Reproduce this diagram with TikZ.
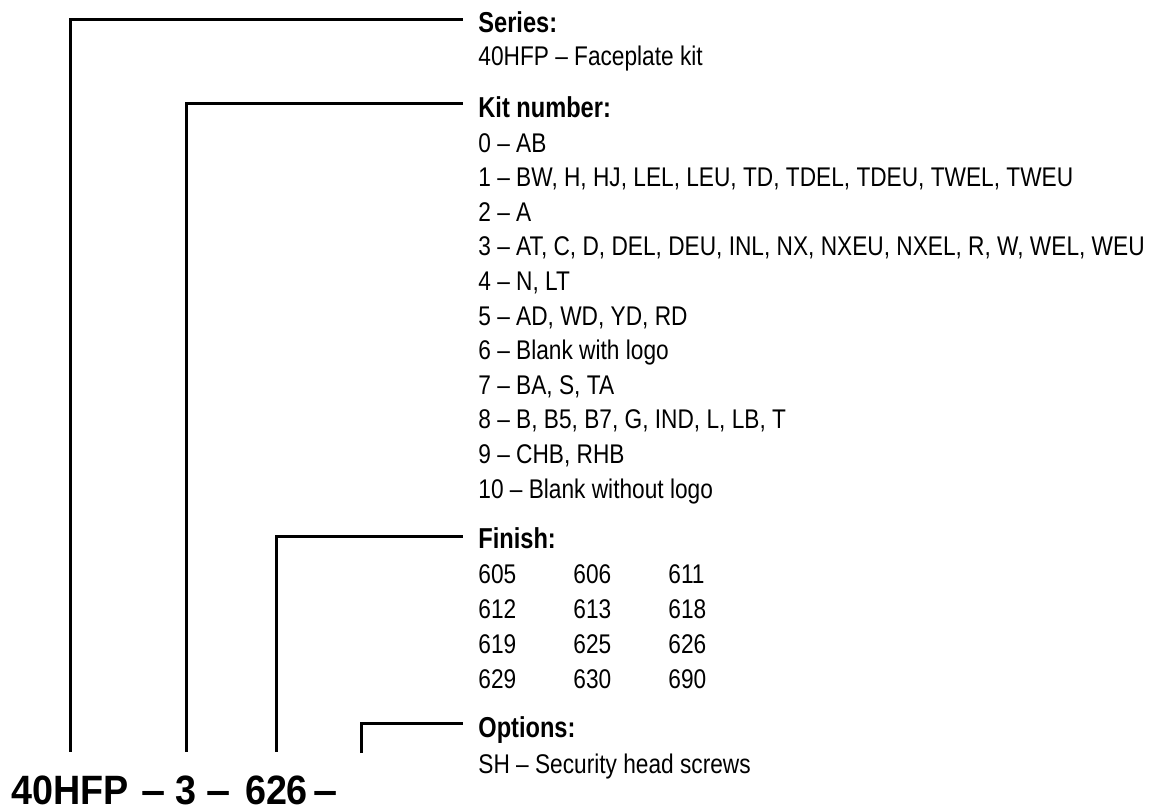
\documentclass[tikz,border=0pt]{standalone}
\usepackage{graphicx}
\usepackage{fontspec}
\setmainfont[FakeStretch=0.84]{Liberation Sans}
\newfontfamily\headfont[FakeStretch=0.82]{Liberation Sans}
\newfontfamily\codefont[FakeStretch=0.92]{Liberation Sans}
\usetikzlibrary{positioning}

\newcommand{\codedash}{\scalebox{1.15}[1]{–}}

\tikzset{
  entry/.style={anchor=base west, inner sep=0pt, font=\fontsize{13.5}{15}\selectfont},
  heading/.style={anchor=base west, inner sep=0pt, font=\headfont\bfseries\fontsize{14.4}{16}\selectfont},
  codepart/.style={anchor=base, inner sep=0pt, text height=14.5pt, text depth=0pt, font=\codefont\bfseries\fontsize{20.5}{22}\selectfont},
  leader/.style={line width=1.5pt},
}

\begin{document}
\begin{tikzpicture}[x=0.5pt,y=-0.5pt]
  \useasboundingbox (0,0) rectangle (1151,810);

  % ordering code
  \node[codepart] (pser) at (70,804) {40HFP};
  \node[codepart] (d1) at (153.5,804) {\codedash};
  \node[codepart] (pkit) at (186,804) {3};
  \node[codepart] (d2) at (218.5,804) {\codedash};
  \node[codepart] (pfin) at (276.5,804) {626};
  \node[codepart] (d3) at (326,804) {\codedash};
  \coordinate (popt) at (361,753);

  % series
  \node[heading] (hser) at (478,32) {Series:};
  \node[entry] (ser) at (478,65) {40HFP – Faceplate kit};

  % kit number
  \node[heading] (hkit) at (478,117) {Kit number:};
  \foreach \k/\txt in {0/{AB}, 1/{BW, H, HJ, LEL, LEU, TD, TDEL, TDEU, TWEL, TWEU}, 2/{A},
      3/{AT, C, D, DEL, DEU, INL, NX, NXEU, NXEL, R, W, WEL, WEU}, 4/{N, LT},
      5/{AD, WD, YD, RD}, 6/{Blank with logo}, 7/{BA, S, TA},
      8/{B, B5, B7, G, IND, L, LB, T}, 9/{CHB, RHB}, 10/{Blank without logo}} {
    \node[entry] (kit\k) at (478,152+34.6*\k) {\k\ – \txt};
  }

  % finish
  \node[heading] (hfin) at (478,548) {Finish:};
  \foreach \r/\a/\b/\c in {0/605/606/611, 1/612/613/618, 2/619/625/626, 3/629/630/690} {
    \node[entry] (fin\r a) at (478,583+35*\r) {\a};
    \node[entry] (fin\r b) at (573,583+35*\r) {\b};
    \node[entry] (fin\r c) at (668,583+35*\r) {\c};
  }

  % options
  \node[heading] (hopt) at (478,737) {Options:};
  \node[entry] (opt) at (478,773) {SH – Security head screws};

  % leaders
  \draw[leader] ([yshift=11.5pt]pser.north) |- ([xshift=-7.5pt,yshift=6.5pt]hser.base west);
  \draw[leader] ([yshift=11.5pt]pkit.north) |- ([xshift=-7.5pt,yshift=7pt]hkit.base west);
  \draw[leader] ([yshift=11.5pt]pfin.north) |- ([xshift=-7.5pt,yshift=6pt]hfin.base west);
  \draw[leader] (popt) |- ([xshift=-7.5pt,yshift=7pt]hopt.base west);
\end{tikzpicture}
\end{document}
